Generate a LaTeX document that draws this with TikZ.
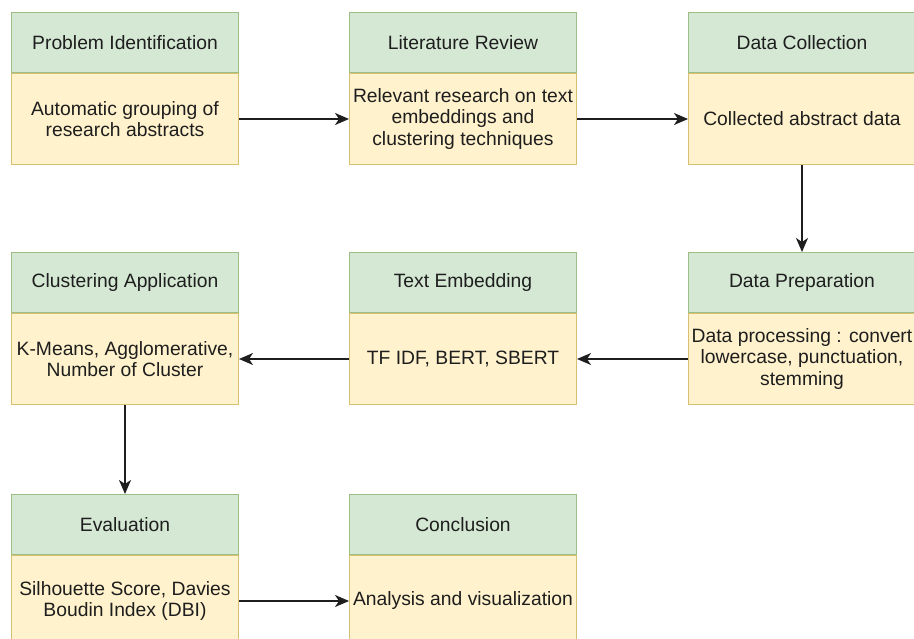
\documentclass[tikz,border=0pt]{standalone}
\usepackage{fontspec}
\setmainfont{Liberation Sans}
\usetikzlibrary{positioning, arrows.meta}

\definecolor{headfill}{HTML}{D5E8D4}
\definecolor{headline}{HTML}{9DBE86}
\definecolor{bodyfill}{HTML}{FFF2CC}
\definecolor{bodyline}{HTML}{D9BF70}
\definecolor{inkgray}{HTML}{1E1E1E}

\begin{document}
\begin{tikzpicture}[
  x=1pt, y=-1pt,
  font=\fontsize{19.3}{21.7}\selectfont, text=inkgray,
  head/.style={draw=headline, fill=headfill, line width=1pt, minimum width=227pt, minimum height=60pt, inner sep=0pt, anchor=north west, align=center},
  body/.style={draw=bodyline, fill=bodyfill, line width=1pt, minimum width=227pt, minimum height=91pt, inner sep=0pt, align=center},
  arr/.style={-{Stealth[length=14pt, width=12pt, inset=4pt]}, line width=1.5pt, inkgray}
]
\useasboundingbox (0,0) rectangle (914,639);
\clip (0,0) rectangle (914,639);
\fill[white] (0,0) rectangle (914,639);

% --- first row ---
\node[head] (probHead) at (11,12)  {Problem Identification};
\node[body, below=0pt of probHead] (probBody) {Automatic grouping of\\research abstracts};
\node[head] (litHead)  at (349,12) {Literature Review};
\node[body, below=0pt of litHead] (litBody) {Relevant research on text\\embeddings and\\clustering techniques};
\node[head] (collHead) at (688,12) {Data Collection};
\node[body, below=0pt of collHead] (collBody) {Collected abstract data};
\draw[arr] (probBody) -- (litBody);
\draw[arr] (litBody) -- (collBody);

% --- second row (right to left) ---
\node[head] (clusHead) at (11,252)  {Clustering Application};
\node[body, below=0pt of clusHead] (clusBody) {K-Means, Agglomerative,\\Number of Cluster};
\node[head] (embHead)  at (349,252) {Text Embedding};
\node[body, below=0pt of embHead] (embBody) {TF IDF, BERT, SBERT};
\node[head] (prepHead) at (688,252) {Data Preparation};
\node[body, below=0pt of prepHead] (prepBody) {Data processing : convert\\lowercase, punctuation,\\stemming};
\draw[arr] (collBody) -- (prepHead);
\draw[arr] (prepBody) -- (embBody);
\draw[arr] (embBody) -- (clusBody);

% --- third row ---
\node[head] (evalHead) at (11,494)  {Evaluation};
\node[body, below=0pt of evalHead] (evalBody) {Silhouette Score, Davies\\Boudin Index (DBI)};
\node[head] (concHead) at (349,494) {Conclusion};
\node[body, below=0pt of concHead] (concBody) {Analysis and visualization};
\draw[arr] (clusBody) -- (evalHead);
\draw[arr] (evalBody) -- (concBody);
\end{tikzpicture}
\end{document}
